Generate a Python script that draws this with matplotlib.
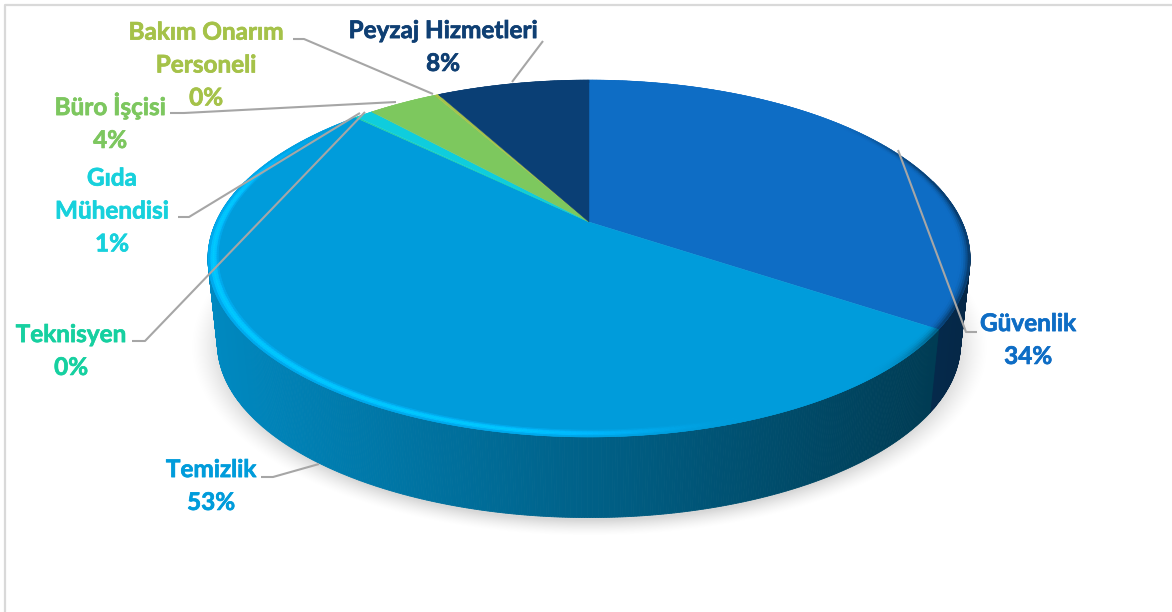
import numpy as np
import matplotlib
matplotlib.use("Agg")
import matplotlib.pyplot as plt
import matplotlib.patheffects as pe
from matplotlib.patches import Polygon
from matplotlib.colors import to_rgb

categories = ["Güvenlik", "Temizlik", "Teknisyen", "Gıda\nMühendisi", "Büro İşçisi", "Bakım Onarım\nPersoneli", "Peyzaj Hizmetleri"]
values = [34.4, 52.9, 0.1, 0.9, 3.6, 0.2, 7.9]
percent_labels = ["34%", "53%", "0%", "1%", "4%", "0%", "8%"]
colors = ["#0E6DC5", "#009CDB", "#1BD1A5", "#0FCDDD", "#7DC85E", "#A5C249", "#0A3F75"]
text_colors = ["#0E6DC5", "#009CDB", "#16D0A0", "#17D1DC", "#7DC75F", "#A5C249", "#0F3F73"]
label_xy = [(1028, 340), (211, 486), (71, 351), (112, 211), (110, 122), (206, 65), (443, 47)]
leaders = [
    [(977, 332), (966, 332), (898, 150)],
    [(261, 477), (273, 477), (319, 464)],
    [(132, 341), (145, 341), (365, 112)],
    [(178, 217), (189, 217), (360, 113)],
    [(170, 113), (184, 113), (396, 102)],
    [(293, 39), (304, 39), (433, 94)],
    [(543, 41), (512, 82)],
]

CX, CY = 589.0, 222.0
K, ALPHA, GAMMA = 0.2045, 171.0, 373.0
DEPTH, SHRINK = 86.0, 0.975


def project(theta, r=1.0, bottom=False):
    X, Y = r * np.sin(theta), r * np.cos(theta)
    d = 1 + K * Y
    s = SHRINK if bottom else 1.0
    off = DEPTH if bottom else 0.0
    return CX + s * GAMMA * X / d, CY + off - s * ALPHA * Y / d


def shade(x):
    t = np.clip((x - 208) / 762, 0, 1)
    return 0.88 - 0.52 * t


def smooth(v, lo, hi):
    u = np.clip((v - lo) / (hi - lo), 0, 1)
    return u * u * (3 - 2 * u)


fig = plt.figure(figsize=(11.72, 6.12), dpi=100)
ax = fig.add_axes([0, 0, 1, 1])
ax.axis("off")

# frame
ax.plot([5, 5, 1172], [612, 5, 5], color="#D9D9D9", lw=1.6, zorder=1)

# soft shadow under the pie
yy, xx = np.mgrid[0:612, 0:1172]
rho = np.sqrt(((xx - 589) / 372.0) ** 2 + ((yy - 347) / 176.0) ** 2)
dist = (rho - 1) * 210
a = np.clip(1 - (dist + 4) / 20, 0, 1) ** 1.5 * 0.16
sh = np.zeros((612, 1172, 4))
sh[..., 3] = a
ax.imshow(sh, extent=(0, 1172, 612, 0), zorder=2, interpolation="bilinear", aspect="auto")
ax.set_xlim(0, 1172)
ax.set_ylim(612, 0)

edges = np.deg2rad(np.concatenate([[0], np.cumsum(values)]) / sum(values) * 360)

# side wall, back to front
wall = []
for i, c in enumerate(colors):
    th = np.arange(edges[i], edges[i + 1], 0.006)
    th = np.append(th, edges[i + 1])
    for a0, a1 in zip(th[:-1], th[1:]):
        if np.cos(0.5 * (a0 + a1)) > 0.25:
            continue
        x0, y0 = project(a0)
        x1, y1 = project(a1)
        x2, y2 = project(a1, bottom=True)
        x3, y3 = project(a0, bottom=True)
        f = shade(0.5 * (x0 + x1))
        wall.append((np.cos(0.5 * (a0 + a1)), [(x0, y0), (x1, y1), (x2, y2), (x3, y3)], np.array(to_rgb(c)) * f))
wall.sort(key=lambda w: -w[0])
for _, pts, col in wall:
    ax.add_patch(Polygon(pts, closed=True, facecolor=col, edgecolor=col, lw=0.6, zorder=3))

# top face
for i, c in enumerate(colors):
    th = np.linspace(edges[i], edges[i + 1], 200)
    x, y = project(th)
    pts = np.column_stack([np.r_[CX, x], np.r_[CY, y]])
    ax.add_patch(Polygon(pts, closed=True, facecolor=c, edgecolor=c, lw=0.3, zorder=4))

# bevel along the rim: bright on the left and front, dark at the far right
radii = np.linspace(0.974, 1.0, 6)
n = len(radii) - 1
for i, c in enumerate(colors):
    base = np.array(to_rgb(c))
    th = np.append(np.arange(edges[i], edges[i + 1], 0.012), edges[i + 1])
    for a0, a1 in zip(th[:-1], th[1:]):
        am = 0.5 * (a0 + a1)
        xm, _ = project(am)
        t = np.clip((xm - 208) / 762, 0, 1)
        cosm = np.cos(am)
        bright = (1 - smooth(t, 0.35, 0.72)) * smooth(-cosm, -0.75, -0.1)
        dark = smooth(t, 0.8, 0.97) * smooth(np.sin(am), 0.6, 0.9) * 0.9
        for j, (r0, r1) in enumerate(zip(radii[:-1], radii[1:])):
            w = np.sin(np.pi * (j + 0.5) / n)
            u = (j + 0.5) / n
            tint = base * (1 + 0.12 * w * bright) + np.array([0, 0.11, 0.13]) * w * bright
            tint = tint * (1 - 0.6 * u * u * dark)
            tint = np.clip(tint, 0, 1)
            p = [project(a0, r0), project(a1, r0), project(a1, r1), project(a0, r1)]
            ax.add_patch(Polygon([(float(q), float(v)) for q, v in p], closed=True,
                                 facecolor=tint, edgecolor=tint, lw=0.4, zorder=5))

# leader lines and labels
for seg in leaders:
    xs, ys = zip(*seg)
    ax.plot(xs, ys, color="#A6A6A6", lw=1.5, zorder=6, solid_capstyle="butt")

for cat, pct, col, (lx, ly) in zip(categories, percent_labels, text_colors, label_xy):
    ax.text(lx, ly, f"{cat}\n{pct}", color=col, ha="center", va="center", family="Lato",
            weight="bold", fontsize=17.5, linespacing=1.52, zorder=7,
            path_effects=[pe.withStroke(linewidth=0.5, foreground=col)])

fig.savefig("out.png", dpi=100)
